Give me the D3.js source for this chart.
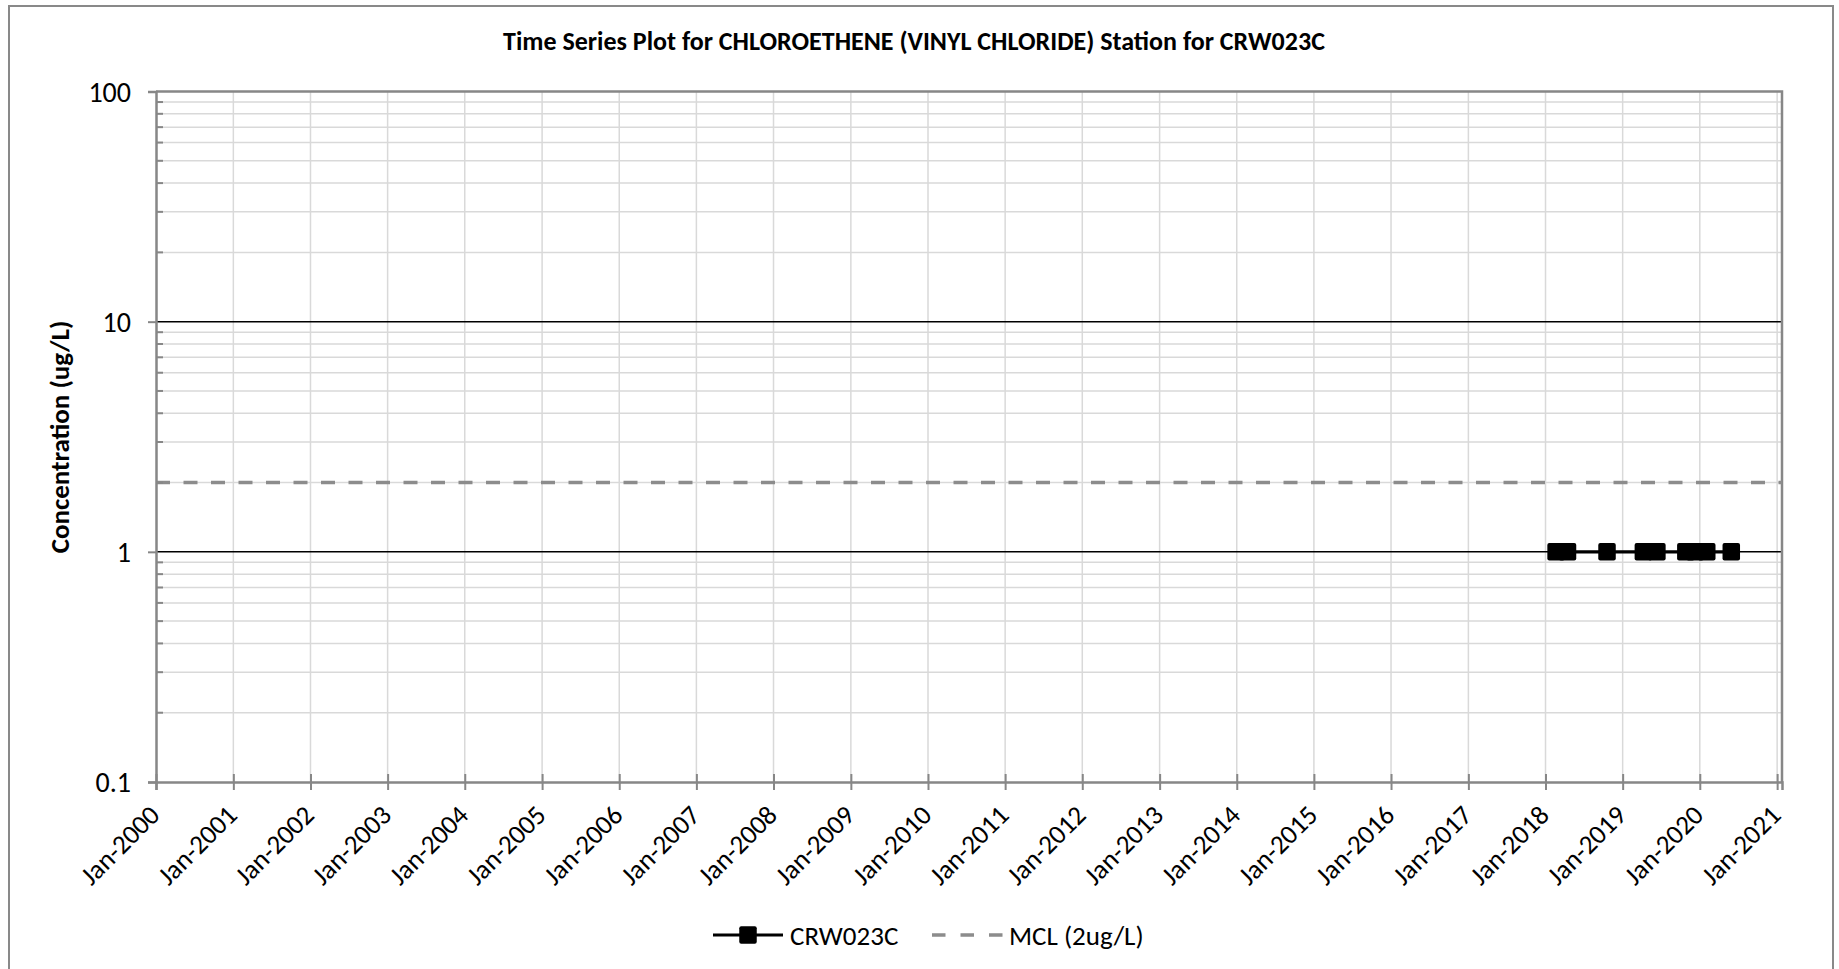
<!DOCTYPE html>
<html>
<head>
<meta charset="utf-8">
<script src="https://cdn.jsdelivr.net/npm/d3@7"></script>
<style>
  html, body { margin: 0; padding: 0; background: #ffffff; }
  svg { display: block; }
  text { font-family: Carlito, Calibri, Lato, "Open Sans", sans-serif; fill: #000; }
</style>
</head>
<body>
<svg id="chart" width="1839" height="969"></svg>
<script>
// ---------- data ----------
const chartTitle = "Time Series Plot for CHLOROETHENE (VINYL CHLORIDE) Station for CRW023C";
const yAxisTitle = "Concentration (ug/L)";
const seriesName = "CRW023C";
const mclName = "MCL (2ug/L)";
const sampleDates = ["2018-02-20", "2018-04-15", "2018-10-19", "2019-04-09", "2019-06-12",
                     "2019-10-27", "2019-12-10", "2020-02-03", "2020-05-29"];
const sampleValues = [1, 1, 1, 1, 1, 1, 1, 1, 1];
const mclValue = 2;
const xDomain = ["2000-01-01", "2021-01-24"];
const xTickYears = d3.range(2000, 2022);
const yDomain = [0.1, 100];
const yMajorTicks = [0.1, 1, 10, 100];
const yTickLabels = ["0.1", "1", "10", "100"];

// ---------- layout ----------
const W = 1839, H = 969;
const plot = { left: 156, right: 1782, top: 91.5, bottom: 782 };
const FONT = "Carlito, Calibri, Lato, 'Open Sans', sans-serif";
const svg = d3.select("#chart");

const parse = d3.utcParse("%Y-%m-%d");
const x = d3.scaleUtc().domain(xDomain.map(parse)).range([plot.left, plot.right]);
const y = d3.scaleLog().domain(yDomain).range([plot.bottom, plot.top]);

// outer chart border
svg.append("rect").attr("x", 9).attr("y", 6).attr("width", 1824).attr("height", 1000)
  .attr("fill", "#fff").attr("stroke", "#898989").attr("stroke-width", 2);

// minor horizontal gridlines
const minorVals = [];
for (let d = 0.1; d < 100; d *= 10) for (let k = 2; k <= 9; k++) minorVals.push(+(d * k).toPrecision(3));
svg.append("g").selectAll("line").data(minorVals).join("line")
  .attr("x1", plot.left).attr("x2", plot.right)
  .attr("y1", d => y(d)).attr("y2", d => y(d))
  .attr("stroke", "#d9d9d9").attr("stroke-width", 1.5);

// vertical gridlines (years)
const yearDates = xTickYears.map(yr => new Date(Date.UTC(yr, 0, 1)));
svg.append("g").selectAll("line").data(yearDates.slice(1)).join("line")
  .attr("x1", d => x(d)).attr("x2", d => x(d))
  .attr("y1", plot.top).attr("y2", plot.bottom)
  .attr("stroke", "#d9d9d9").attr("stroke-width", 1.5);

// major horizontal gridlines
svg.append("g").selectAll("line").data([1, 10]).join("line")
  .attr("x1", plot.left).attr("x2", plot.right)
  .attr("y1", d => y(d)).attr("y2", d => y(d))
  .attr("stroke", "#000").attr("stroke-width", 1.5);

// plot border (top, right)
svg.append("path")
  .attr("d", `M${plot.left},${plot.top}H${plot.right}V${plot.bottom}`)
  .attr("fill", "none").attr("stroke", "#878787").attr("stroke-width", 2.5);

// MCL line
svg.append("line")
  .attr("x1", plot.left).attr("x2", plot.right)
  .attr("y1", y(mclValue)).attr("y2", y(mclValue))
  .attr("stroke", "#8c8c8c").attr("stroke-width", 3.5)
  .attr("stroke-dasharray", "14,13.5");

// Y axis (major ticks outside)
const yAxis = d3.axisLeft(y).tickValues(yMajorTicks)
  .tickFormat((d, i) => yTickLabels[i]).tickSize(8).tickPadding(17);
const gy = svg.append("g").attr("transform", `translate(${plot.left},0)`).call(yAxis);
gy.select(".domain").attr("stroke", "#878787").attr("stroke-width", 2.5);
gy.selectAll(".tick line").attr("stroke", "#878787").attr("stroke-width", 2);
gy.selectAll(".tick text").style("font-size", "28px").attr("fill", "#000")
  .style("font-family", FONT).attr("dy", null).attr("dominant-baseline", "central");

// Y minor ticks inside
svg.append("g").selectAll("line").data(minorVals).join("line")
  .attr("x1", plot.left).attr("x2", plot.left + 7)
  .attr("y1", d => y(d)).attr("y2", d => y(d))
  .attr("stroke", "#878787").attr("stroke-width", 2);

// X axis
const xAxis = d3.axisBottom(x).tickValues(yearDates)
  .tickFormat(d3.utcFormat("Jan-%Y")).tickSize(8).tickPadding(0);
const gx = svg.append("g").attr("transform", `translate(0,${plot.bottom})`).call(xAxis);
gx.select(".domain").attr("stroke", "#878787").attr("stroke-width", 2.5);
gx.selectAll(".tick line").attr("stroke", "#878787").attr("stroke-width", 2).attr("y1", -8);
gx.selectAll(".tick text")
  .style("font-size", "27px").attr("fill", "#000")
  .style("font-family", FONT)
  .attr("text-anchor", "end").attr("dy", null).attr("y", 0)
  .attr("dominant-baseline", "central")
  .attr("transform", "translate(-2,28) rotate(-45)");

// series line + markers
const pts = sampleDates.map((d, i) => ({ date: parse(d), value: sampleValues[i] }));
svg.append("path").datum(pts)
  .attr("d", d3.line().x(d => x(d.date)).y(d => y(d.value)))
  .attr("fill", "none").attr("stroke", "#000").attr("stroke-width", 3.2);
const ms = 17.5;
svg.append("g").selectAll("rect").data(pts).join("rect")
  .attr("x", d => x(d.date) - ms / 2).attr("y", d => y(d.value) - ms / 2)
  .attr("width", ms).attr("height", ms).attr("rx", 2)
  .attr("fill", "#000");

// title
svg.append("text").attr("x", 914).attr("y", 50).attr("text-anchor", "middle")
  .style("font-size", "26px").style("font-weight", "bold").text(chartTitle);

// y-axis title
svg.append("text").attr("transform", "translate(69,437) rotate(-90)")
  .attr("text-anchor", "middle").style("font-size", "27px").style("font-weight", "bold")
  .text(yAxisTitle);

// legend
const ly = 935;
const lg = svg.append("g");
lg.append("line").attr("x1", 713).attr("x2", 783).attr("y1", ly).attr("y2", ly)
  .attr("stroke", "#000").attr("stroke-width", 3.2);
lg.append("rect").attr("x", 748 - ms / 2).attr("y", ly - ms / 2).attr("width", ms).attr("height", ms)
  .attr("rx", 2).attr("fill", "#000");
lg.append("text").attr("x", 790).attr("y", ly).attr("dominant-baseline", "central")
  .style("font-size", "27px").text(seriesName);
lg.append("line").attr("x1", 932).attr("x2", 1003).attr("y1", ly).attr("y2", ly)
  .attr("stroke", "#8c8c8c").attr("stroke-width", 3.5).attr("stroke-dasharray", "13.5,15");
lg.append("text").attr("x", 1009).attr("y", ly).attr("dominant-baseline", "central")
  .style("font-size", "27px").text(mclName);
</script>
</body>
</html>
